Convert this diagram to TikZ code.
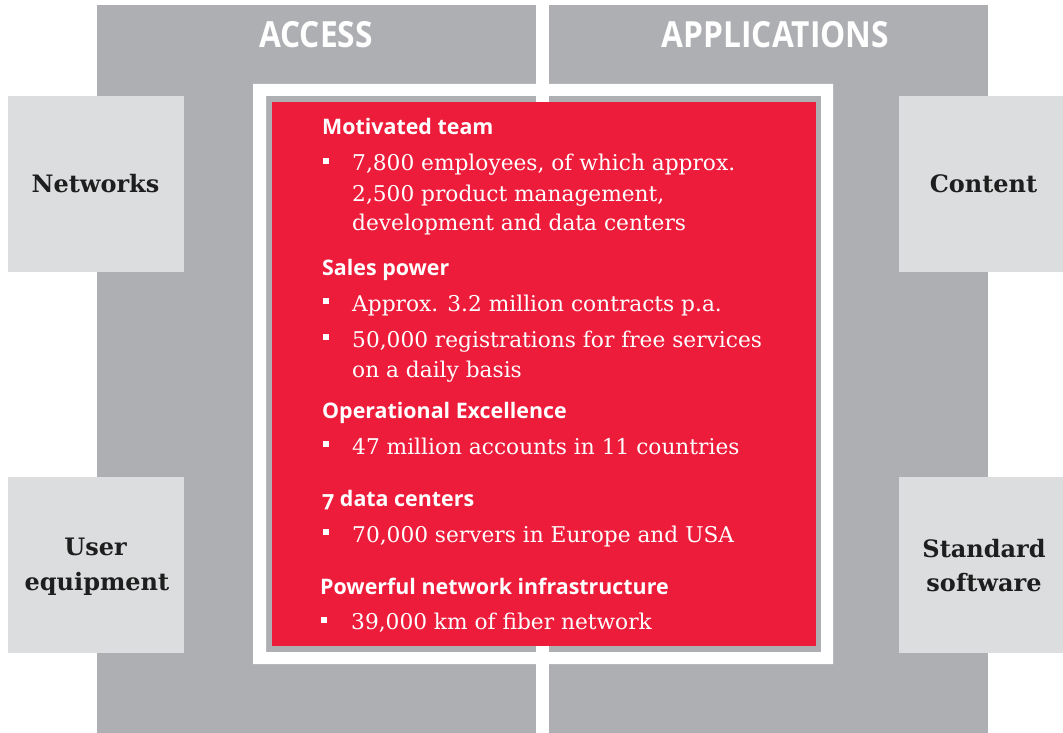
\documentclass[tikz,border=0pt]{standalone}
\usepackage{fontspec}
\newfontfamily\titlefont{Open Sans}[FakeStretch=0.88]
\newfontfamily\headfont{Open Sans}[Numbers=OldStyle]
\newfontfamily\sidefont{DejaVu Serif}
\newfontfamily\bodyfont{DejaVu Serif}
\definecolor{panelgray}{HTML}{AEAFB3}
\definecolor{boxgray}{HTML}{DCDDDF}
\definecolor{boxred}{HTML}{ED1C3B}
\definecolor{labeltext}{HTML}{1E1E1E}
\begin{document}
\begin{tikzpicture}[x=1pt,y=-1pt,
  titletxt/.style={inner sep=0pt,anchor=base,text=white,font=\titlefont\bfseries\fontsize{36}{40}\selectfont},
  sidetxt/.style={inner sep=0pt,anchor=base,text=labeltext,font=\sidefont\bfseries\fontsize{24}{28}\selectfont},
  headtxt/.style={inner sep=0pt,anchor=base west,text=white,font=\headfont\bfseries\fontsize{21.4}{24}\selectfont},
  bodytxt/.style={inner sep=0pt,anchor=base west,text=white,font=\bodyfont\fontsize{21.7}{30}\selectfont},
  bul/.style={fill=white,inner sep=0pt,minimum size=6pt}
]
\useasboundingbox (0,0) rectangle (1063,733);
\fill[white] (0,0) rectangle (1063,733);
% panels
\fill[panelgray] (97,5) rectangle (536,733);
\fill[panelgray] (549,5) rectangle (988,733);
% white frame ring
\fill[white,even odd rule] (253,84) rectangle (833,664) (266,96) rectangle (821,652);
% red box
\fill[boxred] (272,102) rectangle (816,646);
% side boxes
\fill[boxgray] (8,96) rectangle (184,272);
\fill[boxgray] (8,477) rectangle (184,653);
\fill[boxgray] (899,96) rectangle (1063,272);
\fill[boxgray] (899,477) rectangle (1063,653);
% titles
\node[titletxt] (access) at (316,48) {ACCESS};
\node[titletxt] (apps) at (775.5,48) {APPLICATIONS};
% side labels
\node[sidetxt] (networks) at (95.5,193) {Networks};
\node[sidetxt] (content) at (983.5,193) {Content};
\node[sidetxt] (user) at (95.5,555) {User};
\node[sidetxt] (equip) at (97,590) {equipment};
\node[sidetxt] (standard) at (984,557) {Standard};
\node[sidetxt] (software) at (984,591) {software};
% red box content
\node[headtxt] (h1) at (322,135) {Motivated team};
\node[bul] (b1) at (326,161) {};
\node[bodytxt] (t1a) at (352,171) {7,800 employees, of which approx.};
\node[bodytxt] (t1b) at (352,201) {2,500 product management,};
\node[bodytxt] (t1c) at (352,230) {development and data centers};
\node[headtxt] (h2) at (322,275) {Sales power};
\node[bul] (b2) at (326,301) {};
\node[bodytxt] (t2a) at (352,311) {Approx. 3.2 million contracts p.a.};
\node[bul] (b3) at (326,337) {};
\node[bodytxt] (t3a) at (352,347) {50,000 registrations for free services};
\node[bodytxt] (t3b) at (352,377) {on a daily basis};
\node[headtxt] (h3) at (322,418) {Operational Excellence};
\node[bul] (b4) at (326,444) {};
\node[bodytxt] (t4a) at (352,454) {47 million accounts in 11 countries};
\node[headtxt] (h4) at (322,506) {7 data centers};
\node[bul] (b5) at (326,532) {};
\node[bodytxt] (t5a) at (352,542) {70,000 servers in Europe and USA};
\node[headtxt] (h5) at (320,594) {Powerful network infrastructure};
\node[bul] (b6) at (324,620) {};
\node[bodytxt] (t6a) at (351,629) {39,000 km of fiber network};
\end{tikzpicture}
\end{document}
